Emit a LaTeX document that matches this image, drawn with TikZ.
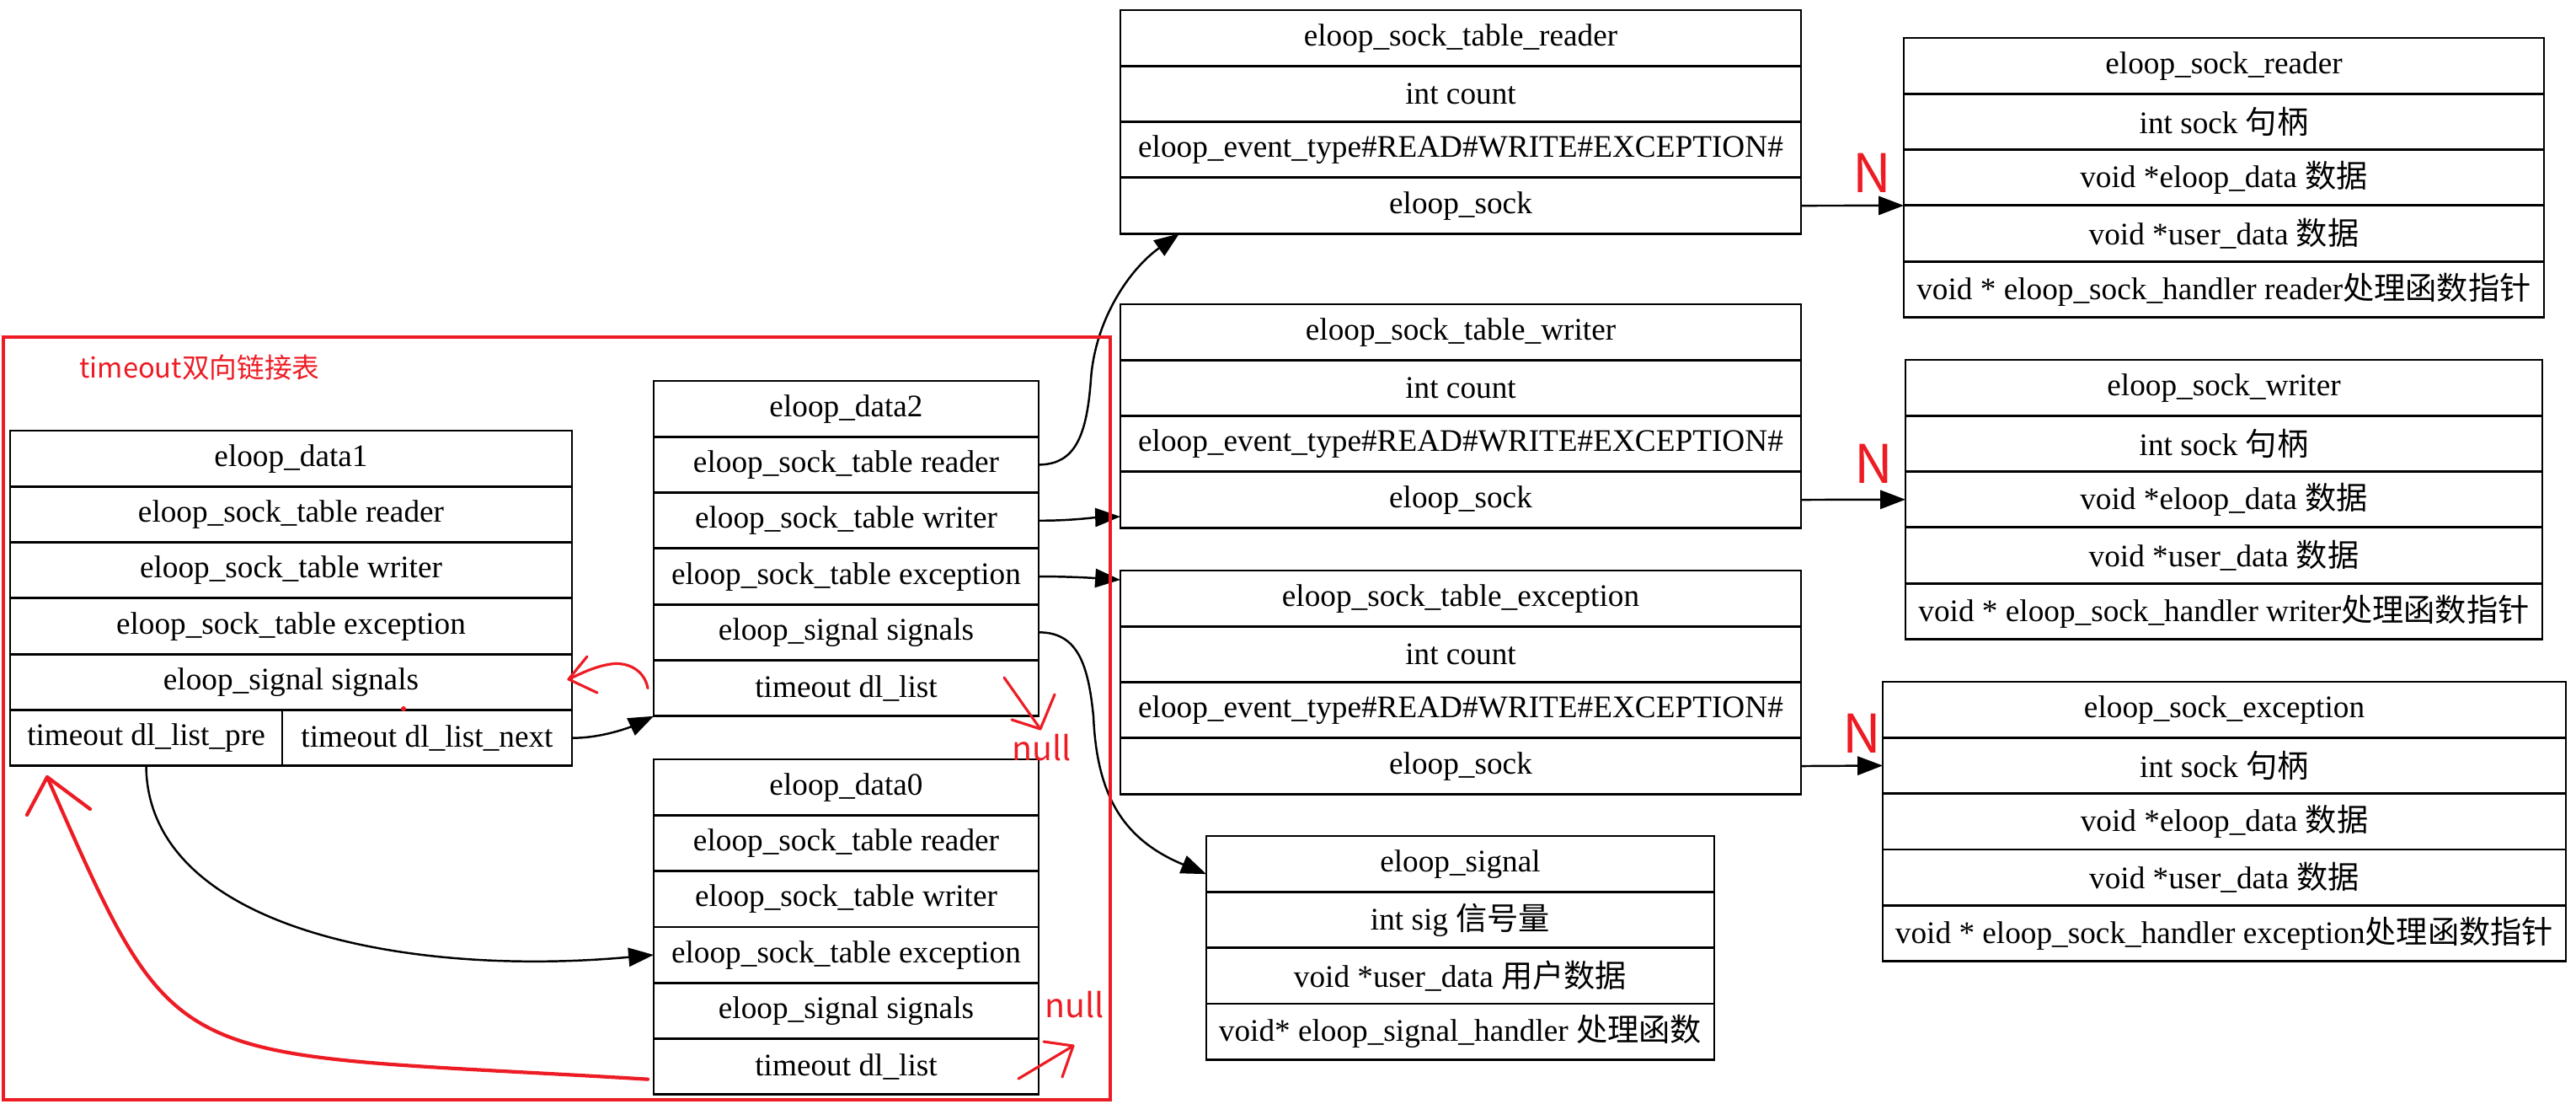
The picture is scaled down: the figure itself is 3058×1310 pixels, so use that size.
\documentclass[tikz,border=0pt]{standalone}
\usepackage{fontspec}
\setmainfont{Liberation Serif}
\newfontfamily\cjk{Noto Sans CJK SC}
\usetikzlibrary{arrows.meta}
\definecolor{pred}{RGB}{237,28,36}
\tikzset{
 cell/.style={draw, line width=0.8pt, inner sep=0pt, outer sep=0pt, minimum height=6.63mm, font=\fontsize{10.6pt}{12pt}\selectfont},
 arr/.style={line width=0.7pt, -{Triangle[length=8.5pt,width=6.3pt]}},
 rline/.style={draw=pred, line width=0.9pt, line cap=round, line join=round},
 rtext/.style={text=pred, font=\cjk\fontsize{11.2pt}{13pt}\selectfont, inner sep=0pt},
}
\newcommand\rec[5]{%
  \foreach \celltext [count=\i] in {#5}{%
    \node[cell, minimum width=#4*0.1mm, anchor=north west] (#1-\i) at (#2,{#3+(\i-1)*66.3}) {\celltext};
  }%
}
\begin{document}
\begin{tikzpicture}[x=0.1mm, y=-0.1mm]
\useasboundingbox (0,0) rectangle (3058,1310);
% left records
\rec{d1}{12}{511}{667}{eloop\_data1, eloop\_sock\_table reader, eloop\_sock\_table writer, eloop\_sock\_table exception, eloop\_signal signals}
\node[cell, minimum width=32.3mm, anchor=north west] (d1-pre) at (12,842.5) {timeout dl\_list\_pre};
\node[cell, minimum width=34.4mm, anchor=north west] (d1-next) at (335,842.5) {timeout dl\_list\_next};
\rec{d2}{776}{452}{457}{eloop\_data2, eloop\_sock\_table reader, eloop\_sock\_table writer, eloop\_sock\_table exception, eloop\_signal signals, timeout dl\_list}
\rec{d0}{776}{901}{457}{eloop\_data0, eloop\_sock\_table reader, eloop\_sock\_table writer, eloop\_sock\_table exception, eloop\_signal signals, timeout dl\_list}
% tables
\rec{str}{1330}{12}{808}{eloop\_sock\_table\_reader, int count, eloop\_event\_type\#READ\#WRITE\#EXCEPTION\#, eloop\_sock}
\rec{stw}{1330}{361}{808}{eloop\_sock\_table\_writer, int count, eloop\_event\_type\#READ\#WRITE\#EXCEPTION\#, eloop\_sock}
\rec{ste}{1330}{677}{808}{eloop\_sock\_table\_exception, int count, eloop\_event\_type\#READ\#WRITE\#EXCEPTION\#, eloop\_sock}
\rec{sig}{1432}{992}{603}{eloop\_signal, int sig {\cjk 信号量}, void *user\_data {\cjk 用户数据}, void* eloop\_signal\_handler {\cjk 处理函数}}
% socks
\rec{sr}{2260}{45}{760}{eloop\_sock\_reader, int sock {\cjk 句柄}, void *eloop\_data {\cjk 数据}, void *user\_data {\cjk 数据}, void * eloop\_sock\_handler reader{\cjk 处理函数指针}}
\rec{sw}{2262}{427}{756}{eloop\_sock\_writer, int sock {\cjk 句柄}, void *eloop\_data {\cjk 数据}, void *user\_data {\cjk 数据}, void * eloop\_sock\_handler writer{\cjk 处理函数指针}}
\rec{se}{2235}{809}{811}{eloop\_sock\_exception, int sock {\cjk 句柄}, void *eloop\_data {\cjk 数据}, void *user\_data {\cjk 数据}, void * eloop\_sock\_handler exception{\cjk 处理函数指针}}
% black connectors
\draw[arr] (d2-2.east) .. controls (1275,551) and (1290,520) .. (1295,450) .. controls (1300,380) and (1340,320) .. ([xshift=7mm]str-4.south west);
\draw[arr] (d2-3.east) .. controls (1270,618) and (1300,614) .. ([yshift=-2mm]stw-4.west);
\draw[arr] (d2-4.east) .. controls (1270,684) and (1300,686) .. ([yshift=-1.1mm]ste-1.north west);
\draw[arr] (d2-5.east) .. controls (1280,750) and (1292,790) .. (1298,850) .. controls (1302,940) and (1330,995) .. ([yshift=-1.2mm]sig-1.west);
\draw[arr] (d1-next.east) .. controls (715,876) and (750,862) .. (d2-6.south west);
\draw[arr] (d1-pre.south) .. controls (175,1100) and (480,1160) .. (d0-4.west);
\draw[arr] (str-4.east) -- (sr-4.north west);
\draw[arr] (stw-4.east) -- (sw-3.west);
\draw[arr] (ste-4.east) -- (se-2.west);
% red annotations
\draw[pred, line width=1.2pt] (4,400) rectangle (1318,1305);
\node[rtext, font=\cjk\fontsize{9.3pt}{11pt}\selectfont] (title) at (237,436) {timeout双向链接表};
\node[rtext] (null1) at (1237,887) {null};
\node[rtext] (null2) at (1276,1192) {null};
\node[rtext, font=\cjk\fontsize{18pt}{20pt}\selectfont] (n1) at (2222,205) {N};
\node[rtext, font=\cjk\fontsize{18pt}{20pt}\selectfont] (n2) at (2224,550) {N};
\node[rtext, font=\cjk\fontsize{18pt}{20pt}\selectfont] (n3) at (2210,870) {N};
\coordinate (ta) at (675,806);
\draw[rline] ([xshift=-0.7mm]d2-6.west) .. controls (765,795) and (745,785) .. (725,788) .. controls (705,791) and (688,800) .. (ta);
\draw[rline] (697,779) -- (ta) -- (709,822);
\coordinate (tb) at (1235,865);
\draw[rline] (1192,804) -- (tb);
\draw[rline] (1201,854) -- (tb) -- (1252,824);
\coordinate (tc) at (1274,1241);
\draw[rline] (1209,1280) -- (tc);
\draw[rline] (1239,1236) -- (tc) -- (1261,1278);
\coordinate (td) at (56,922);
\draw[rline, line width=1.2pt] ([xshift=-0.7mm,yshift=-1.5mm]d0-6.west) .. controls (193,1246) and (215,1283) .. (td);
\draw[rline, line width=1.2pt] (32,967) -- (td) -- (107,960);
\fill[pred] (479,841) circle[radius=0.3mm];
\end{tikzpicture}
\end{document}
